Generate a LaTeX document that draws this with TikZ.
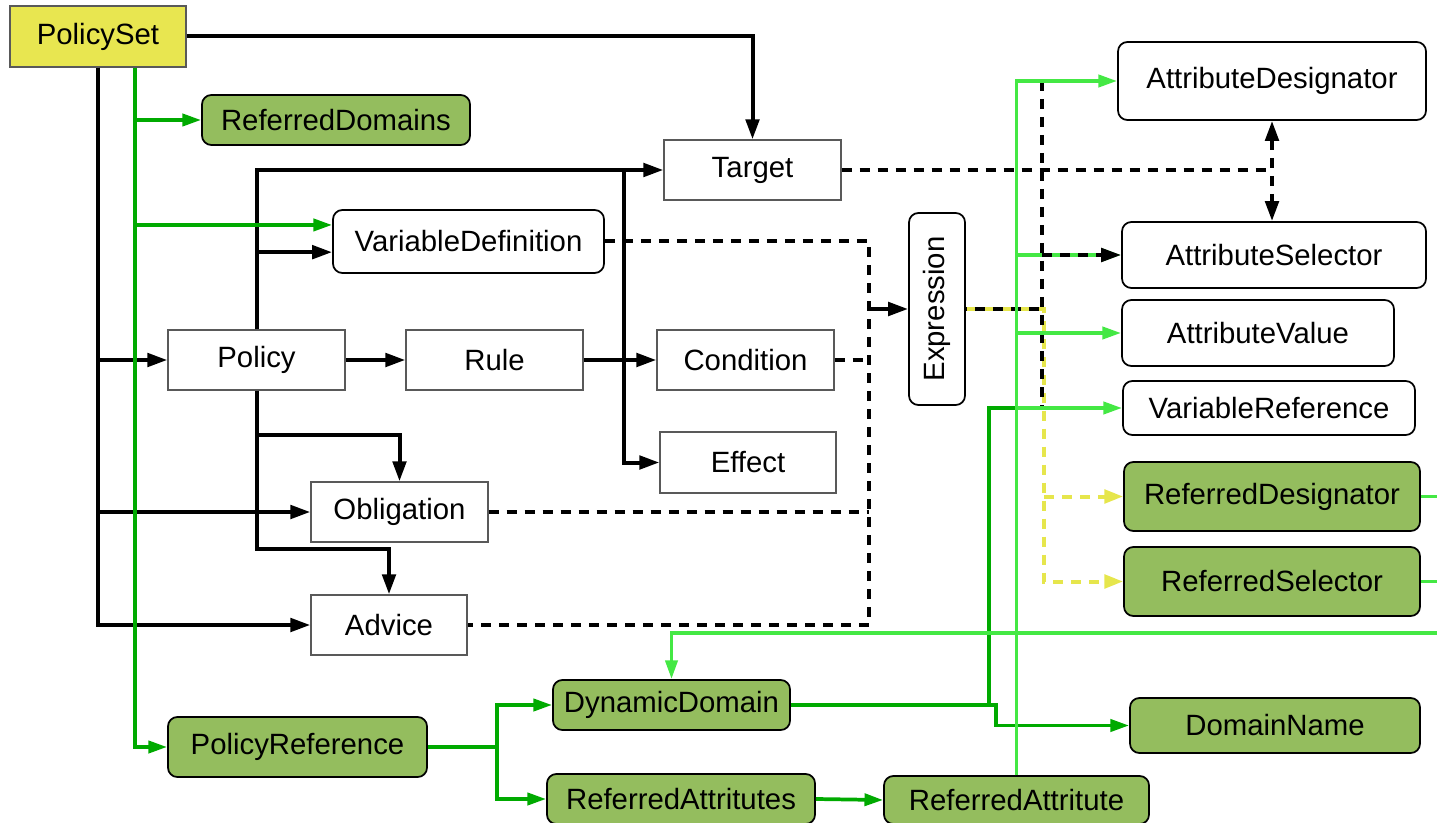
\documentclass[tikz,border=0pt]{standalone}
\usepackage{fontspec}
\usepackage{graphicx}
\setmainfont{Liberation Sans}
\usetikzlibrary{arrows.meta,calc}
\definecolor{psy}{HTML}{E8E650}
\definecolor{ngreen}{HTML}{94BD5E}
\definecolor{dkgreen}{HTML}{00AA00}
\definecolor{ltgreen}{HTML}{44E844}
\definecolor{ylw}{HTML}{E6E64C}
\begin{document}
\begin{tikzpicture}[x=0.75pt,y=-0.75pt,font=\fontsize{22}{26}\selectfont,
  box/.style={draw=black!65,line width=1pt,fill=white,inner sep=0pt,text=black},
  rbox/.style={box,draw=black,rounded corners=7pt,line width=1.3pt},
  gbox/.style={rbox,fill=ngreen},
  sz/.style 2 args={minimum width=#1*0.75pt,minimum height=#2*0.75pt},
  bln/.style={draw=black,line width=3pt},
  bl/.style={bln,-{Triangle[length=15pt,width=10pt]}},
  dsh/.style={draw=black,line width=3pt,dash pattern=on 7.5pt off 6pt},
  ydsh/.style={draw=ylw,line width=3pt,dash pattern=on 7.5pt off 6pt,-{Triangle[length=14pt,width=10pt]}},
  dg/.style={draw=dkgreen,line width=2.8pt},
  dga/.style={dg,-{Triangle[length=14pt,width=9pt]}},
  lg/.style={draw=ltgreen,line width=2.8pt},
  lga/.style={lg,-{Triangle[length=14pt,width=9pt]}}]
\useasboundingbox (0,0) rectangle (1437,823);

% nodes
\node[box,fill=psy,sz={176}{61}] (PS) at (98,36.5) {PolicySet};
\node[gbox,sz={268}{50}] (RDm) at (336,120) {ReferredDomains};
\node[box,sz={177}{60}] (Tg) at (752.5,170) {Target};
\node[rbox,sz={271}{63}] (VD) at (468.5,241.5) {VariableDefinition};
\node[rbox,sz={56}{192}] (Ex) at (937,309) {\rotatebox{90}{Expression}};
\node[box,sz={177}{60}] (Po) at (256.5,360) {Policy};
\node[box,sz={177}{60}] (Ru) at (494.5,360) {Rule};
\node[box,sz={177}{60}] (Co) at (745.5,360) {Condition};
\node[box,sz={176}{61}] (Ef) at (748,462.5) {Effect};
\node[box,sz={177}{60}] (Ob) at (399.5,512) {Obligation};
\node[box,sz={156}{60}] (Ad) at (389,625) {Advice};
\node[rbox,sz={308}{78}] (AD) at (1272,81) {AttributeDesignator};
\node[rbox,sz={304}{66}] (AS) at (1274,255) {AttributeSelector};
\node[rbox,sz={272}{66}] (AV) at (1258,333) {AttributeValue};
\node[rbox,sz={292}{54}] (VR) at (1269,408) {VariableReference};
\node[gbox,sz={296}{69}] (RD) at (1272,496.5) {ReferredDesignator};
\node[gbox,sz={296}{69}] (RS) at (1272,581.5) {ReferredSelector};
\node[gbox,sz={237}{50}] (DD) at (671.5,705) {DynamicDomain};
\node[gbox,sz={259}{60}] (PR) at (297.5,747) {PolicyReference};
\node[gbox,sz={268}{50}] (RAs) at (681,799) {ReferredAttritutes};
\node[gbox,sz={265}{48}] (RAt) at (1016.5,800) {ReferredAttritute};
\node[gbox,sz={290}{55}] (DN) at (1275,725.5) {DomainName};

% black solid connectors
\draw[bl] (PS.east) -| (Tg.north);
\draw[bl] (PS.south) |- (Po.west);
\draw[bl] (PS.south) |- (Ob.west);
\draw[bl] (PS.south) |- (Ad.west);
\draw[bl] (Po.north) |- (Tg.west);
\draw[bl] (Po.north) |- ([yshift=-8pt]VD.west);
\draw[bl] (Po.south) |- ($(Ob.north)+(0,-46)$) -- (Ob.north);
\draw[bl] (Po.south) |- ($(Ad.north)+(0,-45)$) -- (Ad.north);
\draw[bl] (Po.east) -- (Ru.west);
\coordinate (rj) at ($(Ru.east)+(40,0)$);
\draw[bl] (Ru.east) -- (Co.west);
\draw[bl] (rj) |- (Ef.west);
\draw[bln] (rj) -- (rj |- Tg.west);

% black dashed connectors
\coordinate (eb) at ($(Ex.west)+(-39,0)$);
\draw[dsh] (VD.east) -| (eb |- Ad.east) -- (Ad.east);
\draw[dsh] (Co.east) -- (Co.east -| eb);
\draw[dsh] (Ob.east) -- (Ob.east -| eb);
\draw[bl] (eb) -- (Ex.west);
\draw[dsh] (Tg.east) -- (Tg.east -| AD.south);
\draw[dsh,{Triangle[length=15pt,width=10pt]}-{Triangle[length=15pt,width=10pt]}] (AD.south) -- (AD.south |- AS.north);

% yellow dashed connectors
\coordinate (yb) at ($(RS.west)+(-79,0)$);
\draw[ydsh] (Ex.east) -| (yb |- RS.west) -- (RS.west);
\draw[ydsh] (yb |- RD.west) -- (RD.west);

% black dashed from Expression
\coordinate (xb) at ($(AD.west)+(-75,0)$);
\draw[dsh,dash phase=6.75pt] (Ex.east) -- (Ex.east -| xb);
\draw[dsh] (xb |- AD.west) -- (xb |- VR.west);

% dark green connectors
\coordinate (pg) at ($(PS.south)+(37,0)$);
\draw[dga] (pg) |- (RDm.west);
\draw[dga] (pg) |- ([yshift=12.4pt]VD.west);
\draw[dga] (pg) |- (PR.west);
\coordinate (pj) at ($(PR.east)+(69,0)$);
\draw[dg] (PR.east) -- (pj);
\draw[dga] (pj) |- (DD.west);
\draw[dga] (pj) |- (RAs.west);
\draw[dga] (RAs.east) -- (RAt.west);
\coordinate (dj) at ($(DD.east)+(198,0)$);
\draw[dg] (DD.east) -- (dj) |- (RAt.north |- VR.west);
\draw[dga] (DD.east) -- ($(DD.east)+(205,0)$) |- (DN.west);

% light green connectors
\draw[lga] (RAt.north) |- (AD.west);
\draw[lga] (RAt.north) |- (AS.west);
\draw[lga] (RAt.north) |- (AV.west);
\draw[lga] (RAt.north) |- (VR.west);
\coordinate (edge) at (1437,633);
\draw[lg] (RD.east) -- (RD.east -| edge);
\draw[lg] (RS.east) -- (RS.east -| edge);
\draw[lga] (edge) -| (DD.north);

% black dashed arrow to AttributeSelector on top
\draw[dsh,-{Triangle[length=15pt,width=10pt]}] (xb |- AS.west) -- (AS.west);
\end{tikzpicture}
\end{document}
